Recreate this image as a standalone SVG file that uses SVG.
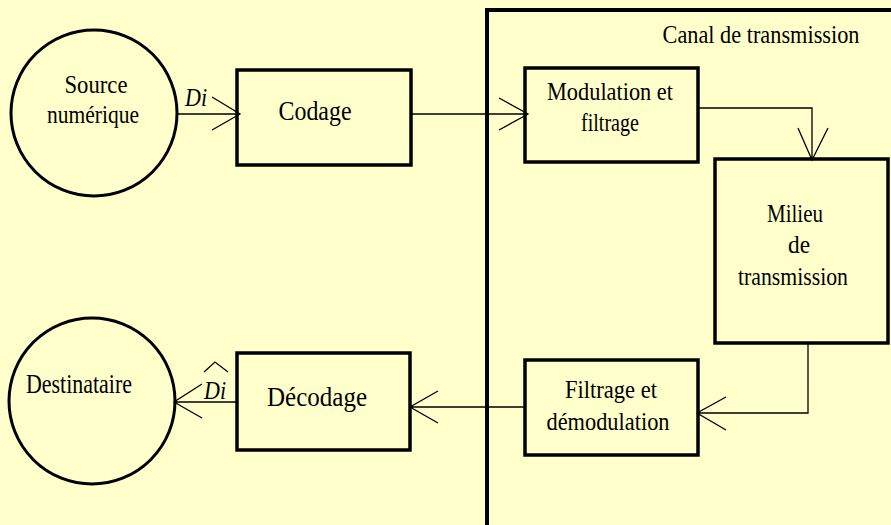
<svg xmlns="http://www.w3.org/2000/svg" width="891" height="525" viewBox="0 0 891 525">
<style>
.bg{fill:#FFFFCC}
.box{fill:none;stroke:#000;stroke-width:3.5}
.circ{fill:none;stroke:#000;stroke-width:3}
.wire{fill:none;stroke:#000;stroke-width:1.3}
text{font-family:"Liberation Serif","Times New Roman",serif;fill:#000;text-anchor:middle}
.t{font-size:26px}
.it{font-style:italic;font-size:25px;text-anchor:start}
</style>
<rect class="bg" x="0" y="0" width="891" height="525"/>
<g id="canal">
<path d="M487,530 V10 H900" fill="none" stroke="#000" stroke-width="4"/>
<text class="t" x="761" y="43" textLength="197" lengthAdjust="spacingAndGlyphs">Canal de transmission</text>
</g>
<g id="source">
<circle class="circ" cx="94" cy="113" r="83"/>
<text class="t" x="96" y="93" textLength="63" lengthAdjust="spacingAndGlyphs">Source</text>
<text class="t" x="93" y="123" textLength="92" lengthAdjust="spacingAndGlyphs">numérique</text>
</g>
<g id="codage">
<rect class="box" x="237" y="70" width="174" height="95"/>
<text class="t" x="315" y="120" textLength="73" lengthAdjust="spacingAndGlyphs" style="font-size:28px">Codage</text>
</g>
<g id="modulation">
<rect class="box" x="525" y="68" width="173" height="94"/>
<text class="t" x="610" y="100" textLength="126" lengthAdjust="spacingAndGlyphs">Modulation et</text>
<text class="t" x="610" y="131" textLength="58" lengthAdjust="spacingAndGlyphs">filtrage</text>
</g>
<g id="milieu">
<rect class="box" x="715" y="159" width="173" height="184"/>
<text class="t" x="795" y="222" textLength="56" lengthAdjust="spacingAndGlyphs">Milieu</text>
<text class="t" x="799" y="253" textLength="22" lengthAdjust="spacingAndGlyphs">de</text>
<text class="t" x="793" y="285" textLength="110" lengthAdjust="spacingAndGlyphs">transmission</text>
</g>
<g id="filtrage">
<rect class="box" x="525" y="360" width="173" height="95"/>
<text class="t" x="611" y="398" textLength="92" lengthAdjust="spacingAndGlyphs">Filtrage et</text>
<text class="t" x="608" y="430" textLength="123" lengthAdjust="spacingAndGlyphs">démodulation</text>
</g>
<g id="decodage">
<rect class="box" x="237" y="353" width="173" height="97"/>
<text class="t" x="317" y="406" textLength="100" lengthAdjust="spacingAndGlyphs" style="font-size:28px">Décodage</text>
</g>
<g id="destinataire">
<circle class="circ" cx="92" cy="401" r="83"/>
<text class="t" x="79" y="393" textLength="106" lengthAdjust="spacingAndGlyphs" style="font-size:27px">Destinataire</text>
</g>
<g id="connectors">
<path class="wire" d="M177,114 H240 M212,97 L240,114 L212,130"/>
<path class="wire" d="M411,114 H528 M499,98 L528,114 L499,130"/>
<path class="wire" d="M698,108 H812 V160 M798,128 L812,160 L828,128"/>
<path class="wire" d="M808,343 V413 H697 M726,397 L697,413 L726,430"/>
<path class="wire" d="M525,407 H410 M438,391 L410,407 L438,423"/>
<path class="wire" d="M237,402 H174 M202,384 L174,402 L202,418"/>
<path class="wire" d="M204,372 L215,362 L228,372"/>
<text class="it" x="185" y="106" textLength="22" lengthAdjust="spacingAndGlyphs">Di</text>
<text class="it" x="204" y="399" textLength="22" lengthAdjust="spacingAndGlyphs">Di</text>
</g>
</svg>
